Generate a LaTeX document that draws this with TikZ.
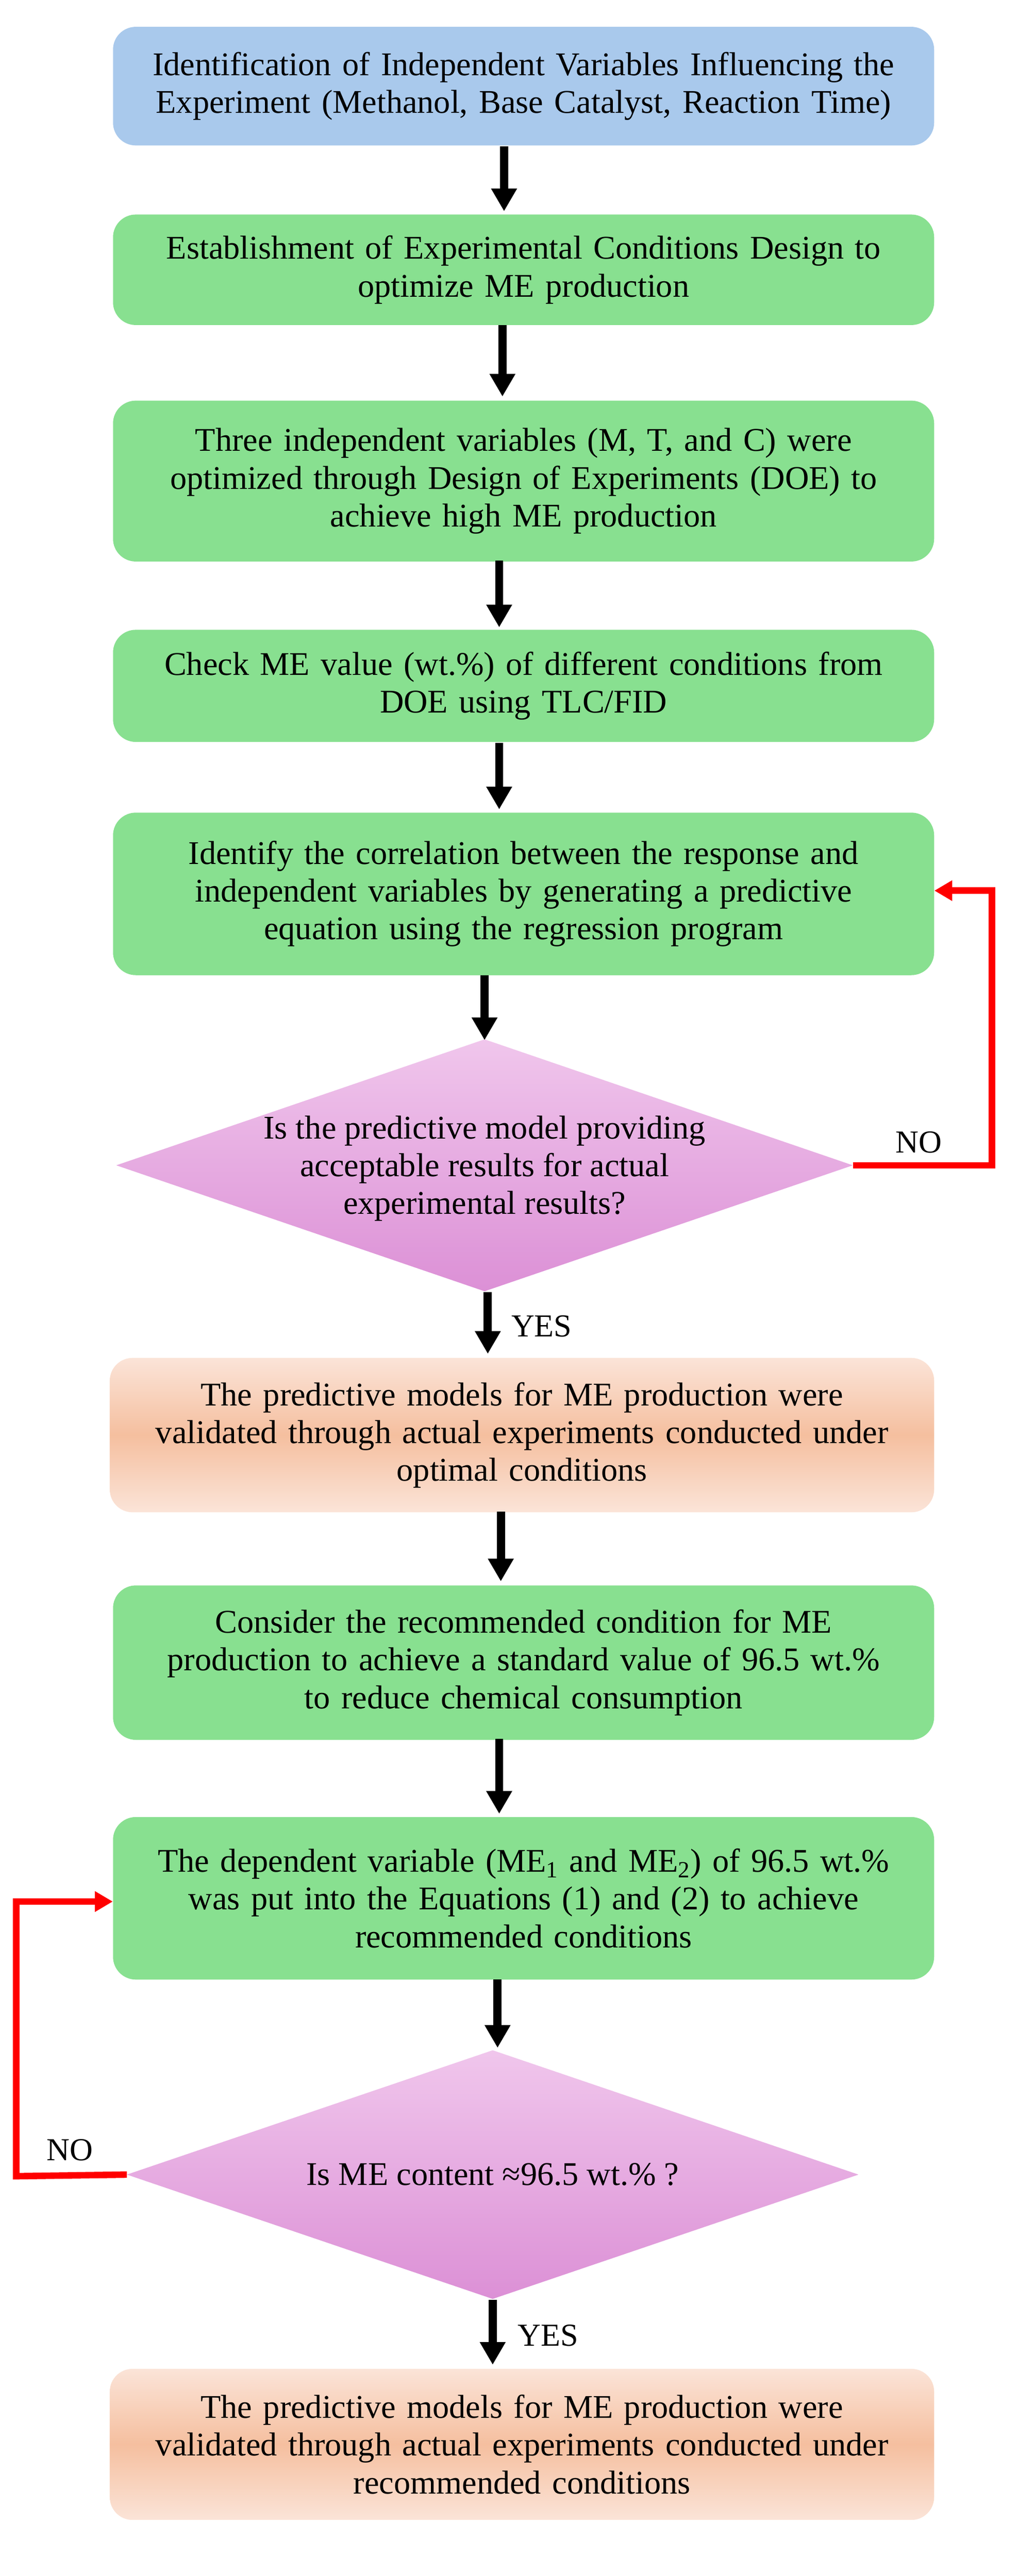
\documentclass[tikz,border=0pt]{standalone}
\usepackage{fontspec}
\setmainfont{Liberation Serif}
\usetikzlibrary{shapes.geometric,arrows.meta}
\definecolor{gbox}{HTML}{88E090}
\definecolor{bbox}{HTML}{A9C9EC}
\definecolor{ptop}{HTML}{FBE4D8}
\definecolor{pmid}{HTML}{F5BF9F}
\definecolor{dtop}{HTML}{F0C6EC}
\definecolor{dbot}{HTML}{DC90D6}
\begin{document}
\begin{tikzpicture}[x=0.05cm,y=-0.05cm,
 box/.style={rounded corners=0.7cm,draw=none,align=center,text width=24.5cm,inner sep=0pt,font=\fontsize{29}{33}\selectfont},
 gb/.style={box,fill=gbox},
 pb/.style={box,top color=ptop,bottom color=ptop,middle color=pmid},
 dia/.style={diamond,inner sep=0pt,outer sep=0pt,top color=dtop,bottom color=dbot},
 dtext/.style={align=center,font=\fontsize{29}{33}\selectfont},
 arr/.style={-{Triangle[length=0.7cm,width=0.75cm]},line width=0.25cm},
 rarr/.style={-{Triangle[length=0.55cm,width=0.6cm]},line width=0.2cm,red},
 lab/.style={font=\fontsize{28}{32}\selectfont}]
\useasboundingbox (0,0) rectangle (626,1585);
\node[box,fill=bbox,minimum width=25.25cm,minimum height=3.65cm] (b1) at (322,53) {Identification of Independent Variables Influencing the\\Experiment (Methanol, Base Catalyst, Reaction Time)};
\node[gb,minimum width=25.25cm,minimum height=3.4cm] (b2) at (322,166) {Establishment of Experimental Conditions Design to\\optimize ME production};
\node[gb,minimum width=25.25cm,minimum height=4.95cm] (b3) at (322,296) {Three independent variables (M, T, and C) were\\optimized through Design of Experiments (DOE) to\\achieve high ME production};
\node[gb,minimum width=25.25cm,minimum height=3.45cm] (b4) at (322,422) {Check ME value (wt.\%) of different conditions from\\DOE using TLC/FID};
\node[gb,minimum width=25.25cm,minimum height=5cm] (b5) at (322,550) {Identify the correlation between the response and\\independent variables by generating a predictive\\equation using the regression program};
\node[dia,minimum width=22.65cm,minimum height=7.75cm] (d1) at (298,717) {};
\node[dtext] (t1) at (298,719) {Is the predictive model providing\\acceptable results for actual\\experimental results?};
\node[pb,minimum width=25.35cm,minimum height=4.75cm] (b6) at (321,883) {The predictive models for ME production were\\validated through actual experiments conducted under\\optimal conditions};
\node[gb,minimum width=25.25cm,minimum height=4.75cm] (b7) at (322,1023) {Consider the recommended condition for ME\\production to achieve a standard value of 96.5 wt.\%\\to reduce chemical consumption};
\node[gb,minimum width=25.25cm,minimum height=5cm] (b8) at (322,1168) {The dependent variable (ME\textsubscript{1} and ME\textsubscript{2}) of 96.5 wt.\%\\was put into the Equations (1) and (2) to achieve\\recommended conditions};
\node[dia,minimum width=22.5cm,minimum height=7.65cm] (d2) at (303,1338) {};
\node[dtext] (t2) at (303,1338) {Is ME content ≈96.5 wt.\% ?};
\node[pb,minimum width=25.35cm,minimum height=4.65cm] (b9) at (321,1504) {The predictive models for ME production were\\validated through actual experiments conducted under\\recommended conditions};
\draw[arr] (310,90) -- (310,130);
\draw[arr] (309,200) -- (309,244);
\draw[arr] (307,345) -- (307,386);
\draw[arr] (307,457) -- (307,498);
\draw[arr] (298,600) -- (298,640);
\draw[arr] (300,795) -- (300,833);
\draw[arr] (308,930) -- (308,973);
\draw[arr] (307,1070) -- (307,1116);
\draw[arr] (306,1218) -- (306,1260);
\draw[arr] (303,1415) -- (303,1455);
\node[lab,anchor=west] (y1) at (312,816) {YES};
\node[lab,anchor=west] (y2) at (316,1437) {YES};
\coordinate (c1) at (610,717);
\coordinate (c2) at (610,548);
\draw[rarr] (d1.east) -- (c1) -- (c2) -- (b5.east |- c2);
\node[lab] (n1) at (565,703) {NO};
\coordinate (c3) at (10,1339);
\coordinate (c4) at (10,1170);
\draw[rarr] (d2.west) -- (c3) -- (c4) -- (b8.west |- c4);
\node[lab] (n2) at (43,1323) {NO};
\end{tikzpicture}
\end{document}
